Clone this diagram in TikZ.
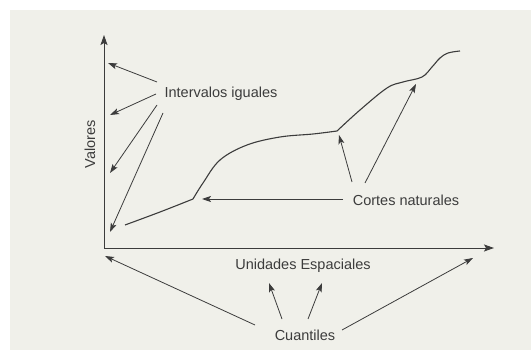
\documentclass[tikz,border=0pt]{standalone}
\usepackage{fontspec}
\setmainfont{Liberation Sans}
\usetikzlibrary{arrows.meta}
\definecolor{ink}{HTML}{3C3C3C}
\definecolor{paper}{HTML}{F0F0EA}

\begin{document}
\begin{tikzpicture}[
  x=1pt, y=-1pt,
  lbl/.style={text=ink, font=\fontsize{14.5}{16}\selectfont, inner sep=1pt},
  line/.style={draw=ink, line width=0.8pt, -{Stealth[length=9pt, width=6pt, inset=2pt]}},
  axis/.style={draw=ink, line width=0.9pt, {Stealth[length=10pt, width=7pt, inset=2pt]}-{Stealth[length=10pt, width=7pt, inset=2pt]}},
  curve/.style={draw=ink, line width=1.1pt, line join=round}
]
\useasboundingbox (0,0) rectangle (531,350);
\fill[paper] (10,10) rectangle (531,350);

% axes
\coordinate (ytop) at (104,35);
\coordinate (orig) at (104,248);
\coordinate (xend) at (494,248);
\draw[axis] (ytop) -- (orig) -- (xend);

% labels
\node[lbl, rotate=90] (val) at (90,144) {Valores};
\node[lbl] (igual) at (221,94) {Intervalos iguales};
\node[lbl] (cortes) at (406,200) {Cortes naturales};
\node[lbl] (unid) at (303,266) {Unidades Espaciales};
\node[lbl] (cuant) at (305,335) {Cuantiles};

% curve
\coordinate (k1) at (193,199);
\coordinate (k2) at (337,131);
\draw[curve] plot[smooth, tension=0.6] coordinates {(125,225) (160,212) (193,199)}
  plot[smooth, tension=0.6] coordinates {(193,199) (203,183) (220,160) (247,145) (280,137) (313,134) (337,131)}
  plot[smooth, tension=0.6] coordinates {(337,131) (360,110) (387,88) (403,82) (422,77) (432,67) (440,58) (448,53) (460,51)};

% intervalos iguales
\coordinate (ia) at (157,82);  \coordinate (ta) at (108,63);
\coordinate (ib) at (156,94);  \coordinate (tb) at (110,115);
\coordinate (ic) at (157,105); \coordinate (tc) at (110,173);
\coordinate (id) at (163,113); \coordinate (td) at (110,232);
\draw[line] (ia) -- (ta);
\draw[line] (ib) -- (tb);
\draw[line] (ic) -- (tc);
\draw[line] (id) -- (td);

% cortes naturales
\coordinate (ca) at (343,199); \coordinate (sa) at (202,199);
\coordinate (cb) at (352,182); \coordinate (sb) at (339,135);
\coordinate (cc) at (365,183); \coordinate (sc) at (416,84);
\draw[line] (ca) -- (sa);
\draw[line] (cb) -- (sb);
\draw[line] (cc) -- (sc);

% cuantiles
\coordinate (qa) at (255,325); \coordinate (ua) at (105,256);
\coordinate (qb) at (282,319); \coordinate (ub) at (269,283);
\coordinate (qc) at (308,319); \coordinate (uc) at (322,283);
\coordinate (qd) at (342,330); \coordinate (ud) at (473,258);
\draw[line] (qa) -- (ua);
\draw[line] (qb) -- (ub);
\draw[line] (qc) -- (uc);
\draw[line] (qd) -- (ud);
\end{tikzpicture}
\end{document}
